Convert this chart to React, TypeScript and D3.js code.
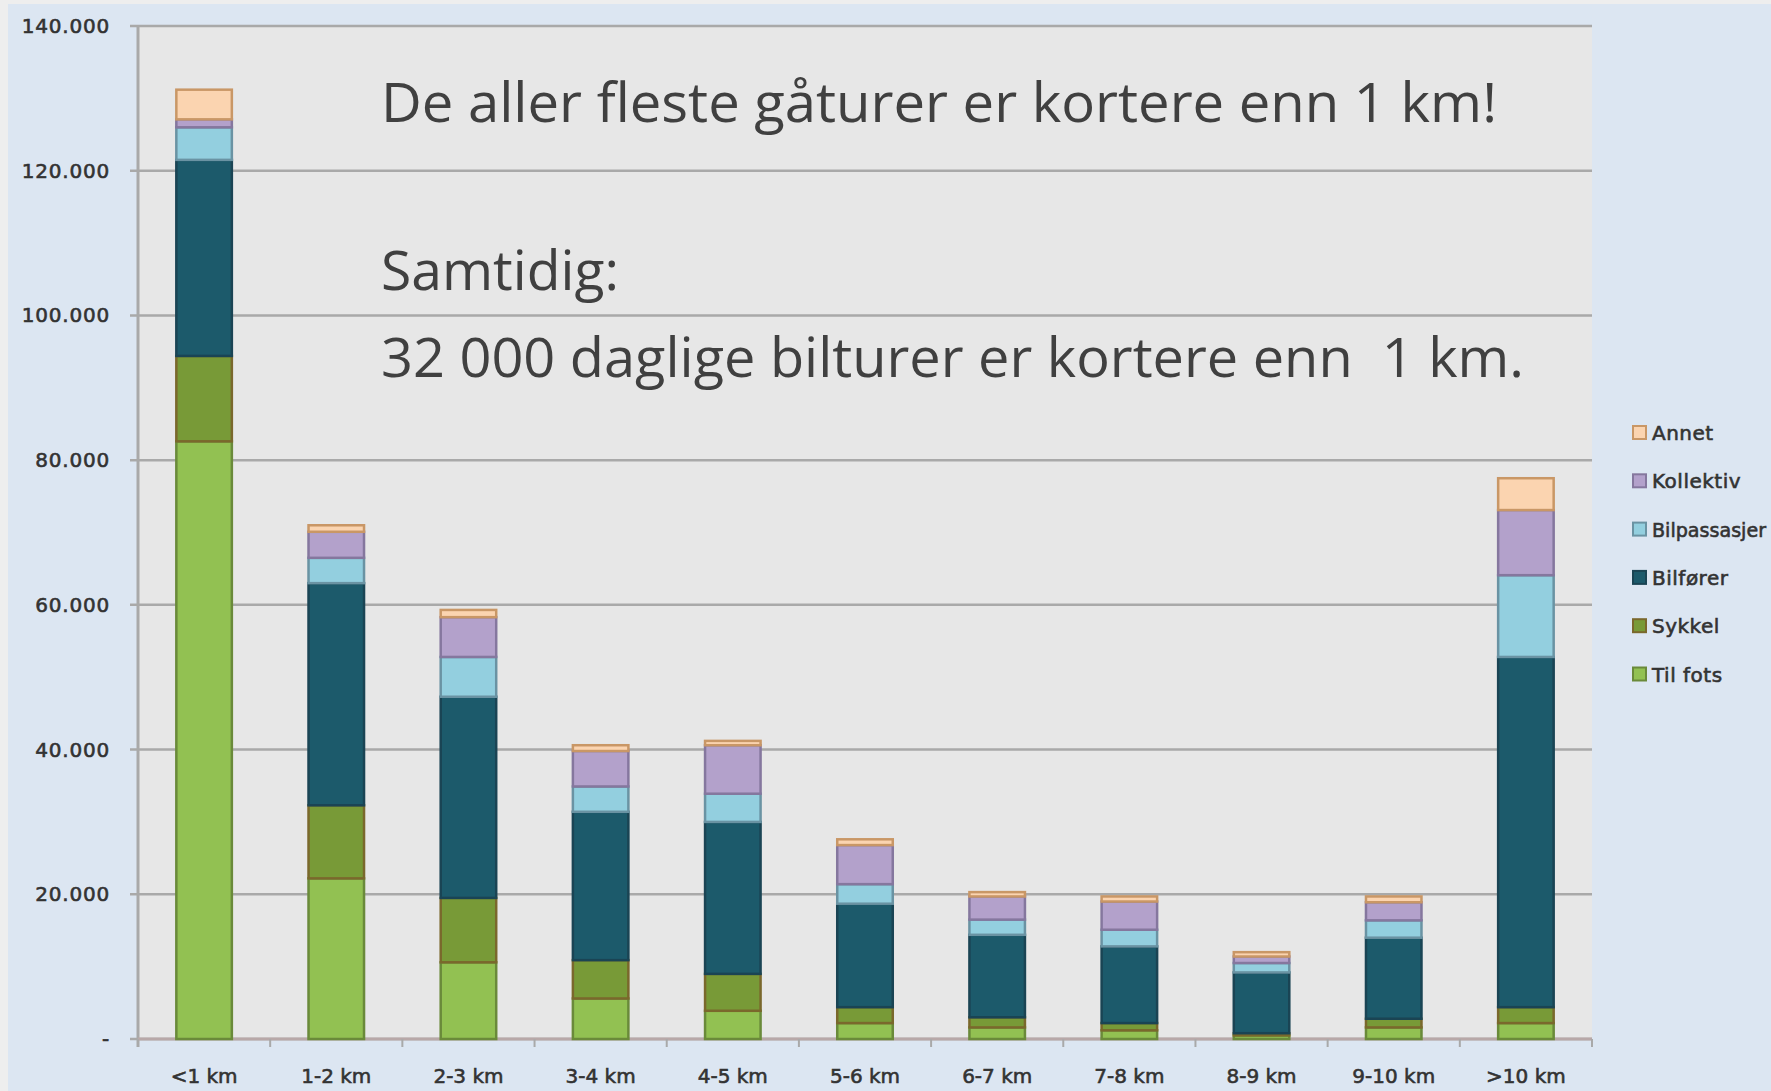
import React from "react";
import * as d3 from "d3";

// categories + series (number of trips)
const categories = ["<1 km", "1-2 km", "2-3 km", "3-4 km", "4-5 km", "5-6 km", "6-7 km", "7-8 km", "8-9 km", "9-10 km", ">10 km"];
const tilFots = [82600, 22200, 10600, 5600, 3900, 2200, 1600, 1200, 500, 1600, 2200];
const sykkel = [11800, 10100, 8900, 5300, 5100, 2200, 1400, 1000, 300, 1200, 2200];
const bilforer = [27100, 30700, 27800, 20500, 21000, 14300, 11400, 10600, 8400, 11200, 48400];
const bilpassasjer = [4500, 3500, 5500, 3500, 3900, 2700, 2100, 2300, 1300, 2400, 11300];
const kollektiv = [1100, 3600, 5500, 4900, 6700, 5400, 3200, 3900, 900, 2500, 9000];
const annet = [4100, 900, 1000, 800, 600, 800, 600, 700, 600, 800, 4400];

const seriesNames = ["Til fots", "Sykkel", "Bilfører", "Bilpassasjer", "Kollektiv", "Annet"];
const seriesValues = [tilFots, sykkel, bilforer, bilpassasjer, kollektiv, annet];
const fills = ["#92c152", "#789a37", "#1c5a6b", "#93cfdf", "#b3a1cb", "#fbd4b0"];
const strokes = ["#6a8a3a", "#7a682c", "#1a4454", "#6a93a3", "#85779e", "#c99766"];

const yTicks = [0, 20000, 40000, 60000, 80000, 100000, 120000, 140000];
const textLines = ["De aller fleste gåturer er kortere enn 1 km!", "Samtidig:", "32 000 daglige bilturer er kortere enn  1 km."];

const W = 1771;
const H = 1091;
const plot = { left: 138, right: 1592, top: 26, bottom: 1039 };

const App = () => {
  const x = d3.scaleBand().domain(categories).range([plot.left, plot.right]).padding(0);
  const y = d3.scaleLinear().domain([0, 140000]).range([plot.bottom, plot.top]);
  const barW = x.bandwidth() * 0.42;

  const rows = categories.map((c, i) => {
    const r: any = { cat: c };
    seriesNames.forEach((s, j) => (r[s] = seriesValues[j][i]));
    return r;
  });
  const stacked = d3.stack().keys(seriesNames)(rows);

  const fmt = (v: number) => (v === 0 ? "-" : d3.format(",")(v).replace(/,/g, "."));

  // band edges for x ticks
  const edges = categories.map((c) => x(c) as number).concat([plot.right]);

  const small = { fontFamily: "DejaVu Sans", fill: "#333", stroke: "#333", strokeWidth: 0.6 };

  return (
    <svg width={W} height={H} style={{ position: "absolute", left: 0, top: 0 }}>
      <rect x={0} y={0} width={W} height={H} fill="#eeeeee" />
      <rect x={8} y={4} width={W - 8} height={H - 4} fill="#dce6f2" />
      <rect x={plot.left} y={plot.top} width={plot.right - plot.left} height={plot.bottom - plot.top} fill="#e7e7e7" />

      {/* gridlines + y ticks */}
      {yTicks.map((t) => (
        <g key={t}>
          <line x1={plot.left - 8} x2={plot.right} y1={y(t)} y2={y(t)} stroke="#a9a9a9" strokeWidth={2.5} />
          <text x={110} y={y(t)} dy="0.35em" textAnchor="end" fontSize={20} letterSpacing={0.8} {...small}>
            {fmt(t)}
          </text>
        </g>
      ))}
      <line x1={plot.left} x2={plot.left} y1={plot.top} y2={plot.bottom + 8} stroke="#a9a9a9" strokeWidth={3} />
      <line x1={plot.left} x2={plot.right} y1={plot.bottom} y2={plot.bottom} stroke="#b8a8a8" strokeWidth={3} />
      {edges.map((e, i) => (
        <line key={i} x1={e} x2={e} y1={plot.bottom} y2={plot.bottom + 8} stroke="#a9a9a9" strokeWidth={2} />
      ))}

      {/* bars */}
      {stacked.map((s, j) => (
        <g key={s.key} fill={fills[j]} stroke={strokes[j]} strokeWidth={2.5}>
          {s.map((d: any, i) => (
            <rect
              key={i}
              x={(x(categories[i]) as number) + (x.bandwidth() - barW) / 2}
              y={y(d[1])}
              width={barW}
              height={Math.max(0, y(d[0]) - y(d[1]))}
            />
          ))}
        </g>
      ))}

      {/* x labels */}
      {categories.map((c) => (
        <text key={c} x={(x(c) as number) + x.bandwidth() / 2} y={1083} textAnchor="middle" fontSize={20} {...small}>
          {c}
        </text>
      ))}

      {/* annotation */}
      <g fontFamily="Open Sans" fontSize={54} fill="#404040">
        <text x={381} y={122} textLength={1116} lengthAdjust="spacingAndGlyphs">{textLines[0]}</text>
        <text x={381} y={290} textLength={238} lengthAdjust="spacingAndGlyphs">{textLines[1]}</text>
        <text x={381} y={377} textLength={1143} lengthAdjust="spacingAndGlyphs" style={{ whiteSpace: "pre" }}>
          {textLines[2]}
        </text>
      </g>

      {/* legend, top entry = Annet */}
      {seriesNames
        .map((n, j) => ({ n, j }))
        .reverse()
        .map(({ n, j }, k) => {
          const cy = 433 + k * 48.3;
          const long = n.length > 10;
          return (
            <g key={n}>
              <rect x={1633} y={cy - 7} width={13} height={13} fill={fills[j]} stroke={strokes[j]} strokeWidth={2} />
              <text
                x={1652}
                y={cy}
                dy="0.35em"
                fontSize={20}
                letterSpacing={long ? 0 : 0.5}
                textLength={long ? 114 : undefined}
                lengthAdjust="spacingAndGlyphs"
                {...small}
              >
                {n}
              </text>
            </g>
          );
        })}
    </svg>
  );
};

export default App;
